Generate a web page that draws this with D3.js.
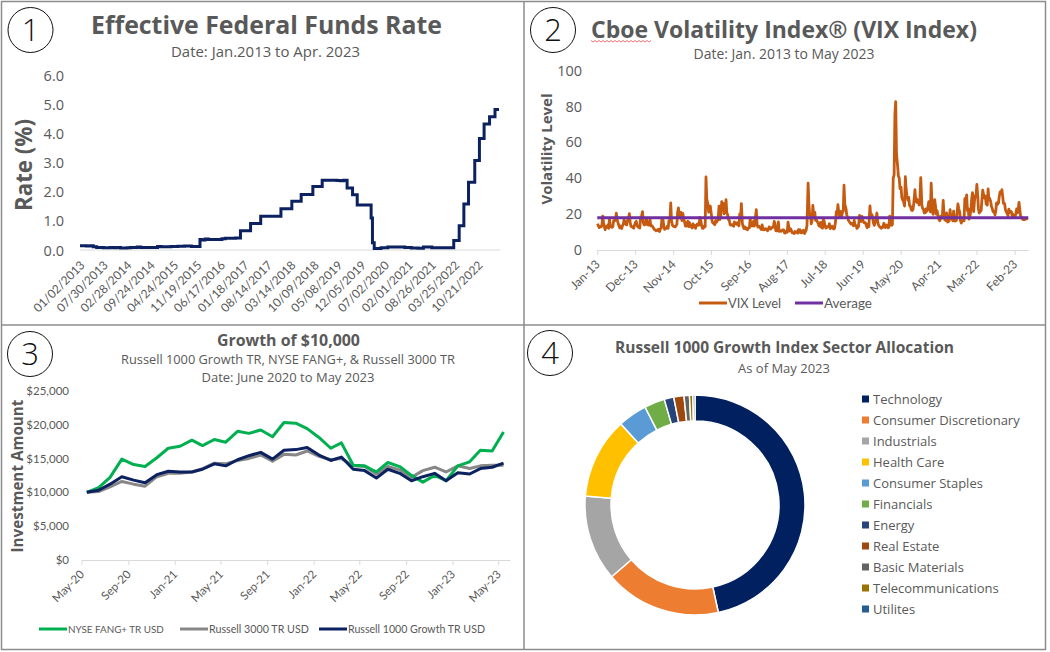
<!DOCTYPE html>
<html><head><meta charset="utf-8">
<script src="https://cdn.jsdelivr.net/npm/d3@7"></script>
<style>
body{margin:0;background:#fff}
svg{display:block}
</style>
</head><body>
<svg id="c" width="1050" height="652"></svg>
<script>
// ---------------- DATA ----------------
// Panel 1: Effective Federal Funds Rate (step change points)
const fedSteps = [
 ["2013-01-02",0.15],["2013-03-01",0.14],["2013-04-01",0.15],["2013-05-01",0.11],["2013-06-01",0.09],
 ["2013-08-01",0.08],["2013-10-01",0.09],["2013-11-01",0.08],["2013-12-01",0.09],["2014-01-01",0.07],
 ["2014-03-01",0.08],["2014-04-01",0.09],["2014-06-01",0.10],["2014-07-01",0.09],["2014-12-01",0.12],
 ["2015-01-01",0.11],["2015-04-01",0.12],["2015-06-01",0.13],["2015-08-01",0.14],["2015-10-01",0.12],
 ["2015-12-17",0.36],["2016-01-01",0.34],["2016-02-01",0.38],["2016-03-01",0.36],["2016-07-01",0.39],
 ["2016-08-01",0.40],["2016-11-01",0.41],["2016-12-15",0.66],["2017-03-16",0.91],["2017-06-15",1.16],
 ["2017-12-14",1.42],["2018-03-22",1.68],["2018-06-14",1.91],["2018-09-27",2.18],["2018-12-20",2.40],
 ["2019-05-01",2.39],["2019-06-01",2.38],["2019-07-01",2.40],["2019-08-01",2.13],["2019-09-19",1.90],
 ["2019-10-31",1.55],["2020-03-04",1.10],["2020-03-16",0.25],["2020-04-01",0.05],["2020-06-01",0.08],
 ["2020-08-01",0.10],["2021-01-01",0.09],["2021-03-01",0.07],["2021-05-01",0.06],["2021-06-17",0.10],
 ["2021-09-01",0.08],["2022-03-17",0.33],["2022-05-05",0.83],["2022-06-16",1.58],["2022-07-28",2.33],
 ["2022-09-22",3.08],["2022-11-03",3.83],["2022-12-15",4.33],["2023-02-02",4.58],["2023-03-23",4.83],
 ["2023-04-28",4.83]
];
const fedTicks = ["01/02/2013","07/30/2013","02/28/2014","09/24/2014","04/24/2015","11/19/2015","06/17/2016",
 "01/18/2017","08/14/2017","03/14/2018","10/09/2018","05/08/2019","12/05/2019","07/02/2020","02/01/2021",
 "08/26/2021","03/25/2022","10/21/2022"];
const fedYTicks = [0,1,2,3,4,5,6];

// Panel 2: VIX (about four readings per month)
const vix2013 = [14.7,13.4,12.5,12.9, 12.9,14.0,18.9,15.5, 13.0,11.3,13.0,12.7, 13.9,12.1,17.5,13.6, 12.9,12.6,13.0,16.3, 16.3,17.1,20.5,16.9,
 14.9,13.5,12.3,13.4, 12.0,13.4,14.4,16.8, 15.6,14.2,14.0,16.6, 18.0,20.3,15.5,13.2, 13.0,12.5,12.2,13.7, 15.4,16.0,13.8,12.9];
const vix2014 = [12.5,12.3,18.1,18.4, 21.4,15.3,14.0,14.0, 14.5,17.8,14.4,13.9, 13.9,17.0,13.4,13.7, 13.0,12.4,11.4,11.4, 10.7,11.1,10.9,11.6,
 10.3,11.8,12.1,17.0, 16.7,13.2,11.5,12.0, 12.1,13.3,12.1,16.3, 16.7,26.2,16.1,14.0, 13.1,13.0,12.9,13.3, 14.3,21.1,23.5,19.2];
const vix2015 = [17.8,20.9,16.4,20.4, 17.3,15.3,13.3,13.3, 15.2,16.0,13.0,15.3, 13.0,13.0,12.3,14.6, 12.9,13.6,12.1,13.8, 14.5,13.8,14.0,18.2,
 16.1,13.5,12.1,12.1, 13.4,13.0,40.7,28.4, 25.6,21.1,22.3,24.5, 20.0,16.2,15.0,15.1, 14.1,16.4,15.5,16.1, 17.3,24.4,17.0,18.2];
const vix2016 = [27.0,24.0,26.0,20.2, 23.4,28.1,20.5,19.8, 16.9,16.5,14.0,13.9, 14.1,13.6,13.2,15.7, 14.7,14.4,15.2,14.2, 13.5,20.1,17.2,25.8,
 14.8,13.0,12.0,12.9, 11.7,12.2,11.3,12.0, 12.5,17.5,14.0,13.3, 13.5,16.1,13.3,17.1, 22.5,14.2,12.8,13.3, 12.6,12.2,11.4,14.0];
const vix2017 = [11.3,11.2,11.5,11.9, 11.4,10.7,11.5,12.9, 11.7,11.6,12.5,12.4, 12.9,15.9,14.6,10.8, 10.6,10.6,15.6,10.4, 10.7,10.4,10.9,11.2,
 11.2,9.5,9.4,10.3, 10.0,15.5,13.0,10.6, 11.7,10.5,9.6,9.5, 9.2,10.3,9.8,10.2, 9.4,11.3,9.9,11.3, 9.6,9.6,10.5,11.0];
const vix2018 = [9.2,10.2,11.1,13.5, 37.3,25.6,19.5,19.9, 14.6,16.5,24.9,20.0, 21.1,16.5,16.9,15.9, 14.8,13.4,13.2,15.4, 12.4,12.2,17.3,16.1,
 13.4,12.2,12.9,12.8, 13.2,14.6,11.9,12.9, 13.2,12.1,11.7,12.1, 15.7,21.3,19.9,25.2, 19.5,18.1,21.5,18.1, 21.1,21.6,36.1,25.4];
const vix2019 = [23.2,19.5,18.6,16.6, 15.7,15.0,14.5,14.8, 14.6,13.5,16.5,13.7, 13.6,12.0,12.6,13.1, 19.3,16.0,15.9,18.7, 16.3,15.3,15.4,15.1,
 13.3,12.4,14.5,13.0, 24.6,18.5,19.9,19.0, 15.0,13.7,15.3,16.2, 20.6,15.6,14.0,13.2, 12.5,12.1,12.8,12.6, 14.9,14.0,12.5,13.8];
const vix2020 = [13.9,12.3,12.9,18.8, 15.0,13.7,14.4,40.1, 41.9,75.5,82.7,53.5, 46.8,41.0,40.2,34.2, 35.0,29.3,27.9,27.5, 24.5,40.8,34.0,30.4,
 27.7,29.3,24.8,24.5, 22.2,22.0,22.7,26.4, 33.6,26.9,28.6,26.4, 27.6,25.1,29.3,40.3, 24.9,23.1,22.7,20.6, 20.8,22.9,21.6,22.8];
const vix2021 = [26.9,24.3,21.3,37.2, 21.8,19.9,22.1,28.0, 24.7,20.0,21.9,19.4, 16.9,16.3,18.7,17.6, 19.0,27.6,20.2,16.8, 16.4,20.7,15.6,15.8,
 16.3,22.5,17.6,18.2, 16.2,21.6,16.2,16.1, 16.4,20.8,25.7,23.1, 21.0,16.3,15.0,16.3, 16.5,16.3,28.6,27.2, 30.7,21.9,22.9,17.2];
const vix2022 = [19.4,22.8,28.9,31.9, 21.4,27.4,30.3,30.2, 36.5,30.8,22.9,20.6, 21.5,22.1,28.2,33.4, 30.2,29.0,30.0,25.7, 25.0,34.0,29.0,28.7,
 27.0,24.2,23.1,21.3, 21.4,19.5,21.8,26.2, 25.5,26.3,29.9,32.3, 31.6,33.6,29.9,26.0, 25.8,22.5,21.3,20.6, 19.1,22.8,20.9,21.7];
const vix2023 = [21.1,18.4,19.8,19.4, 18.3,20.3,22.9,20.7, 22.6,26.5,22.6,18.7, 18.4,17.1,16.9,16.9, 17.5,17.1,17.5,17.9];
const vixAverage = 18.0;
const vixTicks = ["Jan-13","Dec-13","Nov-14","Oct-15","Sep-16","Aug-17","Jul-18","Jun-19","May-20","Apr-21","Mar-22","Feb-23"];
const vixYTicks = [0,20,40,60,80,100];

// Panel 3: Growth of $10,000 (monthly, May-20 .. May-23)
const growthStart = [2020, 4]; // May 2020
const fangValues = [10000,10700,12200,14900,14100,13800,15100,16500,16800,17700,16900,17800,17400,19000,18700,19200,18200,20300,20200,
 19400,18100,16500,17300,14000,13900,13000,14400,13800,12500,11500,12500,11700,13900,14500,16200,16100,18900];
const r3000Values = [10000,10100,10800,11600,11200,10900,12300,12800,12800,13000,13500,14300,14200,14700,15000,15500,14600,15600,15500,
 16100,15300,14800,15000,13900,13800,12700,13800,13300,12200,13200,13700,13000,13900,13500,13900,14000,14000];
const r1000gValues = [10000,10300,11200,12300,11800,11400,12600,13100,13000,13000,13400,14200,13900,14800,15400,15900,14900,16200,16300,
 16600,15500,14700,15200,13400,13200,12100,13400,12800,11700,12300,12800,11700,12900,12700,13500,13700,14300];
const growthTicks = ["May-20","Sep-20","Jan-21","May-21","Sep-21","Jan-22","May-22","Sep-22","Jan-23","May-23"];
const growthYTicks = [0,5000,10000,15000,20000,25000];
const growthSeries = ["NYSE FANG+ TR USD","Russell 3000 TR USD","Russell 1000 Growth TR USD"];

// Panel 4: sector allocation (%)
const sectors = ["Technology","Consumer Discretionary","Industrials","Health Care","Consumer Staples","Financials","Energy",
 "Real Estate","Basic Materials","Telecommunications","Utilites"];
const sectorWeights = [46.6,17.1,12.6,11.9,4.3,3.0,1.4,1.5,0.8,0.5,0.3];

// ---------------- DRAWING ----------------
const svg = d3.select("#c");
const GREY = "#595959";
const SEGOE = "'Open Sans', 'Noto Sans', sans-serif";
const CAL = "Lato, 'Open Sans', sans-serif";

svg.append("rect").attr("width",1050).attr("height",652).attr("fill","#fff");

function fit(t, w){
  const cur = t.node().getComputedTextLength();
  const fs = parseFloat(t.attr("font-size"));
  t.attr("font-size", (fs*w/cur).toFixed(2));
  return t;
}
function txt(x,y,s,size,opt={}){
  const t = svg.append("text").attr("x",x).attr("y",y).text(s)
    .attr("font-family", opt.family||SEGOE).attr("font-size",size)
    .attr("font-weight", opt.weight||400).attr("fill", opt.fill||GREY)
    .attr("text-anchor", opt.anchor||"middle");
  if (opt.w) fit(t, opt.w);
  return t;
}
function circled(cx,cy,n){
  svg.append("circle").attr("cx",cx).attr("cy",cy).attr("r",22.5).attr("fill","none").attr("stroke","#111").attr("stroke-width",1);
  svg.append("text").attr("x",cx).attr("y",cy+11).attr("text-anchor","middle").attr("font-family",SEGOE)
    .attr("font-weight",300).attr("font-size",31).attr("fill","#111").text(n);
}

// panel frames
svg.append("rect").attr("x",1.5).attr("y",1.5).attr("width",1044).attr("height",648).attr("fill","none").attr("stroke","#8c8c8c").attr("stroke-width",1.5);
svg.append("line").attr("x1",524).attr("x2",524).attr("y1",1.5).attr("y2",649.5).attr("stroke","#8c8c8c").attr("stroke-width",1.5);
svg.append("line").attr("x1",1.5).attr("x2",1045.5).attr("y1",325).attr("y2",325).attr("stroke","#8c8c8c").attr("stroke-width",1.5);

const parseMDY = d3.timeParse("%m/%d/%Y");
const parseISO = d3.timeParse("%Y-%m-%d");
const parseMY = d3.timeParse("%b-%y");

// ======== Panel 1 ========
circled(30.5,30,"1");
txt(266.5,33.5,"Effective Federal Funds Rate",26,{weight:700,w:351});
txt(265.5,57,"Date: Jan.2013 to Apr. 2023",14,{w:189});
{
  const x = d3.scaleTime().domain([parseISO("2013-01-02"), parseISO("2023-04-28")]).range([80,499]);
  const y = d3.scaleLinear().domain([0,6]).range([250,75.5]);
  svg.append("line").attr("x1",80).attr("x2",500).attr("y1",y(0)).attr("y2",y(0)).attr("stroke","#d9d9d9").attr("stroke-width",1);
  const ya = svg.append("g").attr("transform","translate(64,0)")
    .call(d3.axisLeft(y).tickValues(fedYTicks).tickFormat(d3.format(".1f")).tickSize(0).tickPadding(0));
  ya.select(".domain").remove();
  ya.selectAll("text").attr("font-family",SEGOE).attr("font-size",14.5).attr("fill",GREY).attr("dy","0.35em");
  const xa = svg.append("g").attr("transform","translate(0,250)")
    .call(d3.axisBottom(x).tickValues(fedTicks.map(parseMDY)).tickFormat(d3.timeFormat("%m/%d/%Y")).tickSize(0));
  xa.select(".domain").remove();
  xa.selectAll("text").attr("font-family",CAL).attr("font-size",12).attr("fill",GREY)
    .attr("text-anchor","end").attr("dy",0).attr("y",0)
    .attr("transform","translate(5,16) rotate(-45)");
  const pts = fedSteps.map(d=>({d:parseISO(d[0]),v:d[1]}));
  svg.append("path").datum(pts).attr("fill","none").attr("stroke","#0b2160").attr("stroke-width",3)
    .attr("d", d3.line().x(d=>x(d.d)).y(d=>y(d.v)).curve(d3.curveStepAfter));
  const yt = svg.append("text").attr("transform","translate(32,165) rotate(-90)").attr("text-anchor","middle")
    .attr("font-family",SEGOE).attr("font-weight",700).attr("font-size",22).attr("fill",GREY).text("Rate (%)");
  fit(yt,92);
}

// ======== Panel 2 ========
circled(553,30,"2");
{
  const t = txt(784,38,"Cboe Volatility Index\u00AE  (VIX Index)",24,{weight:700,w:386});
  // spell-check squiggle under "Cboe"
  let p = "M591,40.5"; for (let i=0;i<30;i++){ p += ` L${591+2*(i+1)},${i%2?40.5:42}`; }
  svg.append("path").attr("d",p).attr("fill","none").attr("stroke","#e05050").attr("stroke-width",0.8);
  txt(784,59,"Date: Jan. 2013 to May 2023",14,{w:181});
  const x = d3.scaleTime().domain([new Date(2013,0,1), new Date(2023,5,1)]).range([597.3,1028.3]);
  const y = d3.scaleLinear().domain([0,100]).range([250,70.5]);
  const years = [vix2013,vix2014,vix2015,vix2016,vix2017,vix2018,vix2019,vix2020,vix2021,vix2022,vix2023];
  const pts = [];
  years.forEach((arr,yi)=>arr.forEach((v,i)=>{ pts.push({d:new Date(2013+yi, Math.floor(i/4), 4+7*(i%4)), v}); }));
  const xa = svg.append("g").attr("transform","translate(0,250)")
    .call(d3.axisBottom(x).tickValues(vixTicks.map(parseMY)).tickFormat(d3.timeFormat("%b-%y")).tickSize(5).tickSizeOuter(0));
  xa.select(".domain").attr("stroke","#d9d9d9");
  xa.selectAll("line").attr("stroke","#d9d9d9");
  xa.selectAll("text").attr("font-family",CAL).attr("font-size",12).attr("fill",GREY)
    .attr("text-anchor","end").attr("dy",0).attr("y",0).attr("transform","translate(3,15) rotate(-45)");
  const ya = svg.append("g").attr("transform","translate(582,0)")
    .call(d3.axisLeft(y).tickValues(vixYTicks).tickSize(0).tickPadding(0));
  ya.select(".domain").remove();
  ya.selectAll("text").attr("font-family",SEGOE).attr("font-size",14.5).attr("fill",GREY);
  svg.append("path").datum(pts).attr("fill","none").attr("stroke","#c55a11").attr("stroke-width",2.8).attr("stroke-linejoin","round")
    .attr("d", d3.line().x(d=>x(d.d)).y(d=>y(d.v)));
  svg.append("line").attr("x1",597.3).attr("x2",1028.3).attr("y1",y(vixAverage)).attr("y2",y(vixAverage))
    .attr("stroke","#7030a0").attr("stroke-width",3);
  const yt = svg.append("text").attr("transform","translate(552,149) rotate(-90)").attr("text-anchor","middle")
    .attr("font-family",SEGOE).attr("font-weight",700).attr("font-size",17).attr("fill",GREY).text("Volatility Level");
  fit(yt,111);
  // legend
  svg.append("line").attr("x1",699).attr("x2",727).attr("y1",303).attr("y2",303).attr("stroke","#c55a11").attr("stroke-width",3);
  txt(728,308,"VIX Level",14,{anchor:"start",family:CAL,w:53});
  svg.append("line").attr("x1",795).attr("x2",823).attr("y1",303).attr("y2",303).attr("stroke","#7030a0").attr("stroke-width",3);
  txt(824,308,"Average",14,{anchor:"start",family:CAL,w:48});
}

// ======== Panel 3 ========
circled(30,354,"3");
txt(288.5,346,"Growth of $10,000",16,{weight:700,w:143});
txt(288,364,"Russell 1000 Growth TR, NYSE FANG+, & Russell 3000 TR",13,{w:334});
txt(288,382,"Date: June 2020 to May 2023",13,{w:173});
{
  const x = d3.scaleTime().domain([new Date(2020,4,1), new Date(2023,5,1)]).range([81.5,510]);
  const y = d3.scaleLinear().domain([0,25000]).range([560,390.7]);
  const dateAt = i => new Date(growthStart[0], growthStart[1]+i, 15);
  const xa = svg.append("g").attr("transform","translate(0,560)")
    .call(d3.axisBottom(x).tickValues(growthTicks.map(parseMY)).tickFormat(d3.timeFormat("%b-%y")).tickSize(5).tickSizeOuter(0));
  xa.select(".domain").attr("stroke","#d9d9d9");
  xa.selectAll("line").attr("stroke","#d9d9d9");
  xa.selectAll("text").attr("font-family",CAL).attr("font-size",11.5).attr("fill",GREY)
    .attr("text-anchor","end").attr("dy",0).attr("y",0).attr("transform","translate(3,15) rotate(-45)");
  const ya = svg.append("g").attr("transform","translate(69,0)")
    .call(d3.axisLeft(y).tickValues(growthYTicks).tickFormat(d=>"$"+d3.format(",")(d)).tickSize(0).tickPadding(0));
  ya.select(".domain").remove();
  ya.selectAll("text").attr("font-family",CAL).attr("font-size",11.5).attr("fill",GREY);
  const colors = ["#00b050","#878787","#0b2160"];
  const series = [fangValues, r3000Values, r1000gValues];
  const line = d3.line().x((d,i)=>x(dateAt(i))).y(d=>y(d));
  [1,0,2].forEach(k=>{
    svg.append("path").datum(series[k]).attr("fill","none").attr("stroke",colors[k]).attr("stroke-width",3).attr("stroke-linejoin","round").attr("d",line);
  });
  const yt = svg.append("text").attr("transform","translate(23,476) rotate(-90)").attr("text-anchor","middle")
    .attr("font-family",SEGOE).attr("font-weight",700).attr("font-size",16).attr("fill",GREY).text("Investment Amount");
  fit(yt,153);
  const lx = [39,180,319], lw=[96,100,137];
  growthSeries.forEach((s,k)=>{
    svg.append("line").attr("x1",lx[k]).attr("x2",lx[k]+28).attr("y1",629).attr("y2",629).attr("stroke",colors[k]).attr("stroke-width",3);
    txt(lx[k]+29,633,s,11,{anchor:"start",family:CAL,w:lw[k]});
  });
}

// ======== Panel 4 ========
circled(550,353,"4");
txt(784.5,353,"Russell 1000 Growth Index Sector Allocation",16,{weight:700,w:339});
txt(784,373,"As of May 2023",13,{w:92});
{
  const colors = ["#002060","#ed7d31","#a5a5a5","#ffc000","#5b9bd5","#70ad47","#264478","#9e480e","#636363","#997300","#255e91"];
  const pie = d3.pie().sort(null).value(d=>d);
  const arc = d3.arc().innerRadius(84).outerRadius(110);
  const g = svg.append("g").attr("transform","translate(695,505)");
  g.selectAll("path").data(pie(sectorWeights)).join("path").attr("d",arc)
    .attr("fill",(d,i)=>colors[i]).attr("stroke","#fff").attr("stroke-width",1.5);
  sectors.forEach((s,i)=>{
    const yy = 399 + i*21;
    svg.append("rect").attr("x",862).attr("y",yy-3.5).attr("width",7).attr("height",7).attr("fill",colors[i]);
    txt(873,yy+4.5,s,13,{anchor:"start"});
  });
}
</script>
</body></html>
